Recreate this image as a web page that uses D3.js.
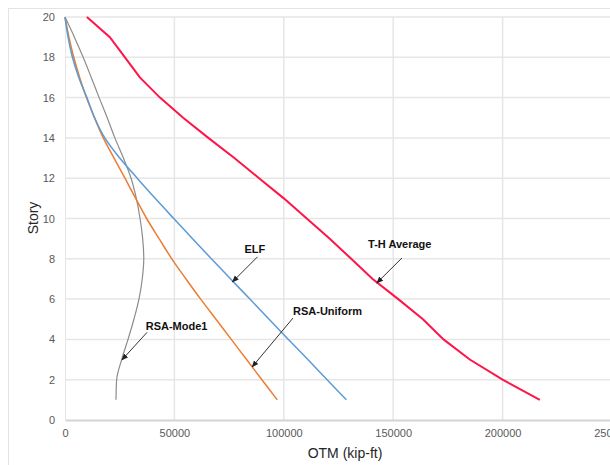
<!DOCTYPE html>
<html><head><meta charset="utf-8">
<script src="https://cdn.jsdelivr.net/npm/d3@7"></script>
<style>html,body{margin:0;padding:0;background:#fff;overflow:hidden}</style>
</head><body>
<svg id="c" width="610" height="465"></svg>
<script>
const stories = [1,2,3,4,5,6,7,8,9,10,11,12,13,14,15,16,17,18,19,20];
const elf        = [128600,119800,111000,102100,93300,84500,75700,66900,58300,49700,41200,33000,25000,18200,13500,10000,6300,3400,1400,0];
const rsaUniform = [97000,90000,83000,76000,69000,62000,55300,48800,43000,37300,32300,27400,22400,17500,13500,9800,6700,4000,1800,0];
const rsaMode1   = [23300,23600,25900,28800,31500,33800,35300,36000,35500,34300,32600,30200,26700,22800,19300,15600,12000,8300,4300,0];
const thAverage  = [217000,200000,185000,173000,163600,152300,140600,130800,121000,110500,100000,88700,77400,65500,54000,43400,34200,27400,20500,10000];
const xTicks = [0,50000,100000,150000,200000,250000];
const yTicks = [0,2,4,6,8,10,12,14,16,18,20];
const seriesNames = ["RSA-Mode1","RSA-Uniform","ELF","T-H Average"];
const seriesColors = ["#8c8c8c","#ed7d31","#5b9bd5","#ff1447"];
const seriesValues = [rsaMode1, rsaUniform, elf, thAverage];
// annotation anchors: label position in data units and arrow tip story
const annLabels = ["RSA-Mode1","RSA-Uniform","ELF","T-H Average"];
const annText = [[51000,4.45],[120000,5.2],[86800,8.3],[153000,8.53]];
const annFrom = [[37500,4.35],[104200,5.06],[88000,8.1],[154000,8.04]];
const annTip  = [[26000,2.98],[85500,2.63],[76500,6.85],[142500,6.8]];

const svg = d3.select("#c");
const x = d3.scaleLinear().domain([0,250000]).range([65,612]);
const y = d3.scaleLinear().domain([0,20]).range([420,17]);

// outer frame
svg.append("rect").attr("x",8.5).attr("y",8.5).attr("width",640).attr("height",470)
  .attr("fill","#fff").attr("stroke","#e3e3e3");

// gridlines
svg.append("g").selectAll("line").data(yTicks.filter(d=>d>0)).join("line")
  .attr("x1",x(0)).attr("x2",612).attr("y1",d=>y(d)).attr("y2",d=>y(d))
  .attr("stroke","#e6e6e6").attr("stroke-width",1.5);
svg.append("g").selectAll("line").data(xTicks.filter(d=>d>0)).join("line")
  .attr("y1",y(0)).attr("y2",y(20)).attr("x1",d=>x(d)).attr("x2",d=>x(d))
  .attr("stroke","#e6e6e6").attr("stroke-width",1.5);

// axes
const xAxis = svg.append("g").attr("transform",`translate(0,${y(0)})`)
  .call(d3.axisBottom(x).tickValues(xTicks).tickFormat(d3.format("d")).tickSize(0).tickPadding(9));
xAxis.select(".domain").attr("stroke","#d4d4d4").attr("stroke-width",2);
const yAxis = svg.append("g").attr("transform",`translate(${x(0)},0)`)
  .call(d3.axisLeft(y).tickValues(yTicks).tickSize(0).tickPadding(10));
yAxis.select(".domain").attr("stroke","#e6e6e6").attr("stroke-width",1);
svg.selectAll(".tick text").attr("font-family","Liberation Sans, Arial, sans-serif")
  .attr("font-size",11).attr("fill","#595959");

// axis titles
svg.append("text").attr("x",345).attr("y",458).attr("text-anchor","middle")
  .attr("font-family","Liberation Sans, Arial, sans-serif").attr("font-size",14).attr("fill","#262626")
  .text("OTM (kip-ft)");
svg.append("text").attr("transform","translate(38,218) rotate(-90)").attr("text-anchor","middle")
  .attr("font-family","Liberation Sans, Arial, sans-serif").attr("font-size",14).attr("fill","#262626")
  .text("Story");

// series
const widths = [1.2,1.5,1.5,2];
const curves = [d3.curveMonotoneY,d3.curveMonotoneY,d3.curveMonotoneY,d3.curveLinear];
seriesValues.forEach((vals,i)=>{
  const line = d3.line().x(d=>x(d[0])).y(d=>y(d[1])).curve(curves[i]);
  svg.append("path").datum(vals.map((v,k)=>[v,stories[k]]))
    .attr("fill","none").attr("stroke",seriesColors[i]).attr("stroke-width",widths[i])
    .attr("d",line);
});

// arrow marker
svg.append("defs").append("marker").attr("id","ah").attr("viewBox","0 0 10 10")
  .attr("refX",9).attr("refY",5).attr("markerWidth",7).attr("markerHeight",7)
  .attr("orient","auto").attr("markerUnits","userSpaceOnUse")
  .append("path").attr("d","M0,1 L10,5 L0,9 z").attr("fill","#222");

// annotations
annLabels.forEach((t,i)=>{
  svg.append("text").attr("x",x(annText[i][0])).attr("y",y(annText[i][1]))
    .attr("text-anchor","middle").attr("font-family","Liberation Sans, Arial, sans-serif")
    .attr("font-size",11).attr("font-weight","bold").attr("fill","#111").text(t);
  svg.append("line").attr("x1",x(annFrom[i][0])).attr("y1",y(annFrom[i][1]))
    .attr("x2",x(annTip[i][0])).attr("y2",y(annTip[i][1]))
    .attr("stroke","#333").attr("stroke-width",1).attr("marker-end","url(#ah)");
});
</script>
</body></html>
